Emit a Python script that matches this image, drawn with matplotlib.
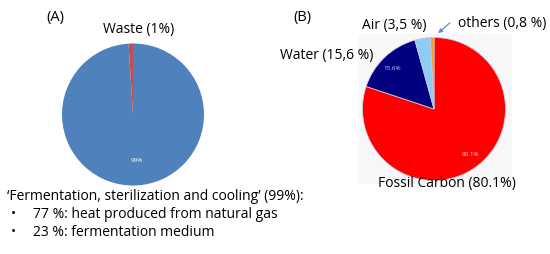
import matplotlib
matplotlib.use("Agg")
import matplotlib.pyplot as plt
from matplotlib.patches import Rectangle, FancyArrowPatch

plt.rcParams['font.family'] = ['Open Sans', 'DejaVu Sans']

W, H = 550, 254
# Pie A data
a_labels = ["Fermentation, sterilization and cooling", "Waste"]
a_values = [99, 1]
a_colors = ["#4F81BD", "#C0504D"]
# Pie B data
b_labels = ["Fossil Carbon", "Water", "Air", "others"]
b_values = [80.1, 15.6, 3.5, 0.8]
b_colors = ["#FF0000", "#000080", "#8DCDF5", "#F0A020"]

fig = plt.figure(figsize=(W / 100, H / 100), dpi=100)

def px_axes(x0, y0, x1, y1):
    return fig.add_axes([x0 / W, 1 - y1 / H, (x1 - x0) / W, (y1 - y0) / H])

def ftext(x, y, s, **kw):
    fig.text(x / W, 1 - y / H, s, **kw)

# faint background for pie B
bg = px_axes(358, 34, 512, 184)
bg.add_patch(Rectangle((0, 0), 1, 1, color="#F7F7F7", transform=bg.transAxes))
bg.axis("off")

axA = px_axes(62, 43.5, 204, 185.5)
axA.pie(a_values, colors=a_colors, startangle=90, counterclock=False,
        wedgeprops=dict(linewidth=0))
axA.set_xlim(-1, 1); axA.set_ylim(-1, 1); axA.set_aspect("equal"); axA.axis("off")

axB = px_axes(362.5, 37.5, 505.5, 180.5)
axB.pie(b_values, colors=b_colors, startangle=90, counterclock=False,
        wedgeprops=dict(linewidth=0.6, edgecolor="#C8C8E0"))
axB.set_xlim(-1, 1); axB.set_ylim(-1, 1); axB.set_aspect("equal"); axB.axis("off")

fs = 10
ftext(55, 18, "(A)", fontsize=10.5, ha="center", va="center")
ftext(139, 29, f"{a_labels[1]} ({a_values[1]}%)", fontsize=fs, ha="center", va="center")
ftext(137, 161, f"{a_values[0]}%", fontsize=4.5, color="white", ha="center", va="center")

ftext(302, 18, "(B)", fontsize=10.5, ha="center", va="center")
ftext(394, 25, "Air (3,5 %)", fontsize=fs, ha="center", va="center")
ftext(502, 24, "others (0,8 %)", fontsize=fs, ha="center", va="center")
ftext(327, 55, "Water (15,6 %)", fontsize=fs, ha="center", va="center")
ftext(392, 68, f"{b_values[1]}%", fontsize=4.5, color="#D0D0F0", ha="center", va="center")
ftext(470, 155, f"{b_values[0]}%", fontsize=4.5, color="#FFD0D0", ha="center", va="center")
ftext(447, 184, f"{b_labels[0]} ({b_values[0]}%)", fontsize=fs, ha="center", va="center")

fig.add_artist(FancyArrowPatch(
    (452 / W, 1 - 21 / H), (436 / W, 1 - 35 / H), transform=fig.transFigure,
    arrowstyle="-|>", mutation_scale=6, color="#5B8FD0", linewidth=0.9))

ftext(7, 197, "‘Fermentation, sterilization and cooling’ (99%):", fontsize=fs, ha="left", va="center")
ftext(13, 214, "•", fontsize=fs, ha="center", va="center")
ftext(33, 214, "77 %: heat produced from natural gas", fontsize=fs, ha="left", va="center")
ftext(13, 233, "•", fontsize=fs, ha="center", va="center")
ftext(33, 233, "23 %: fermentation medium", fontsize=fs, ha="left", va="center")

fig.savefig("out.png", dpi=100, facecolor="white")
